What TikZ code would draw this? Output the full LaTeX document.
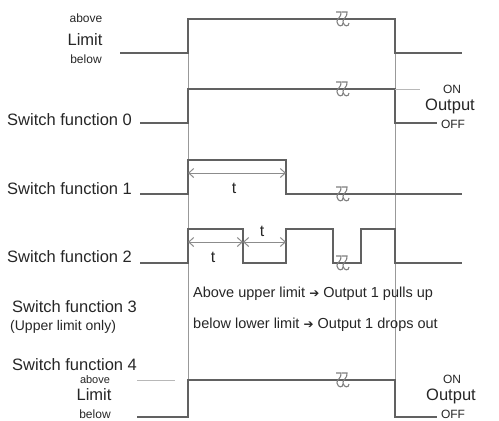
\documentclass[tikz,border=0pt]{standalone}
\usepackage{fontspec}
\setmainfont{Liberation Sans}
\newfontfamily\symfont{DejaVu Sans}
\usetikzlibrary{arrows.meta}
\tikzset{
  sig/.style={line width=1.3pt, draw=black!62},
  gridline/.style={line width=0.7pt, draw=black!40},
  faint/.style={line width=1pt, draw=black!28},
  dim/.style={{Straight Barb[length=5pt,width=9pt]}-{Straight Barb[length=5pt,width=9pt]}, line width=1pt, draw=black!45},
  brkline/.style={line width=1.1pt, draw=black!50},
  fname/.style={font=\fontsize{16.5}{18}\selectfont, anchor=base west, inner sep=0pt, text=black!85},
  subname/.style={font=\fontsize{14}{16}\selectfont, anchor=base west, inner sep=0pt, text=black!85},
  lvl/.style={font=\fontsize{12}{14}\selectfont, anchor=base, inner sep=0pt, text=black!85},
  big/.style={font=\fontsize{16.5}{18}\selectfont, anchor=base, inner sep=0pt, text=black!85},
  note/.style={font=\fontsize{14.5}{16}\selectfont, anchor=base west, inner sep=0pt, text=black!85},
  tlab/.style={font=\fontsize{16}{18}\selectfont, inner sep=0pt, text=black!85},
  brk/.pic={
    \draw[brkline] (-7,-7) -- (-2,-7) .. controls (-1,-2) and (-7,0) .. (-6,3) .. controls (-5,8) and (0,8) .. (0,4);
    \draw[brkline] (-1,-7) -- (4,-7) .. controls (5,-2) and (-1,0) .. (0,3) .. controls (1,8) and (6,8) .. (6,4);
  }
}
\begin{document}
\begin{tikzpicture}[x=1pt, y=-1pt]
  \useasboundingbox (0,0) rectangle (499,421);
  \def\tA{188}
  \def\tB{395}
  \def\xbrk{343}

  % Time marks
  \draw[gridline] (\tA,19) -- (\tA,417);
  \draw[gridline] (\tB,19) -- (\tB,417);

  % Limit (top)
  \node[lvl] (abv0) at (86,22) {above};
  \node[big] (lim0) at (85,45) {Limit};
  \node[lvl] (blw0) at (86,63) {below};
  \draw[sig] (120,53) -- (\tA,53) -- (\tA,19) -- (\tB,19) -- (\tB,53) -- (462,53);
  \pic at (\xbrk,19) {brk};

  % Switch function 0
  \node[fname] (sf0) at (7,125) {Switch function 0};
  \draw[sig] (140,123) -- (\tA,123) -- (\tA,89) -- (\tB,89) -- (\tB,123) -- (437,123);
  \draw[faint] (\tB,89) -- (420,89);
  \pic at (\xbrk,89) {brk};
  \node[lvl] (on0) at (452,93) {ON};
  \node[big] (out0) at (450,110) {Output};
  \node[lvl] (off0) at (453,128) {OFF};

  % Switch function 1
  \node[fname] (sf1) at (7,194) {Switch function 1};
  \draw[sig] (140,194) -- (\tA,194) -- (\tA,160) -- (286,160) -- (286,194) -- (462,194);
  \pic at (\xbrk,194) {brk};
  \draw[dim] (\tA,173) -- (286,173);
  \node[tlab] (t1) at (234,188) {t};

  % Switch function 2
  \node[fname] (sf2) at (7,262) {Switch function 2};
  \draw[sig] (140,263) -- (\tA,263) -- (\tA,229) -- (243,229) -- (243,263) -- (286,263) -- (286,229)
    -- (333,229) -- (333,263) -- (361,263) -- (361,229) -- (\tB,229) -- (\tB,263) -- (462,263);
  \pic at (\xbrk,263) {brk};
  \draw[dim] (\tA,242) -- (243,242);
  \draw[dim] (243,242) -- (286,242);
  \node[tlab] (t2a) at (213,257) {t};
  \node[tlab] (t2b) at (262,231) {t};

  % Switch function 3
  \node[fname] (sf3) at (12,312) {Switch function 3};
  \node[subname] (sf3b) at (10,330) {(Upper limit only)};
  \node[note] (up3) at (193,297) {Above upper limit {\symfont\fontsize{12}{12}\selectfont ➔} Output 1 pulls up};
  \node[note] (dn3) at (193,328) {below lower limit {\symfont\fontsize{12}{12}\selectfont ➔} Output 1 drops out};

  % Switch function 4
  \node[fname] (sf4) at (12,370) {Switch function 4};
  \node[lvl, font=\fontsize{11}{12}\selectfont] (abv4) at (95,383) {above};
  \node[big] (lim4) at (94,400) {Limit};
  \node[lvl] (blw4) at (95,418) {below};
  \draw[faint] (137,380) -- (175,380);
  \draw[sig] (137,417) -- (\tA,417) -- (\tA,380) -- (\tB,380) -- (\tB,417) -- (437,417);
  \pic at (\xbrk,380) {brk};
  \node[lvl] (on4) at (452,383) {ON};
  \node[big] (out4) at (451,400) {Output};
  \node[lvl] (off4) at (453,418) {OFF};
\end{tikzpicture}
\end{document}
